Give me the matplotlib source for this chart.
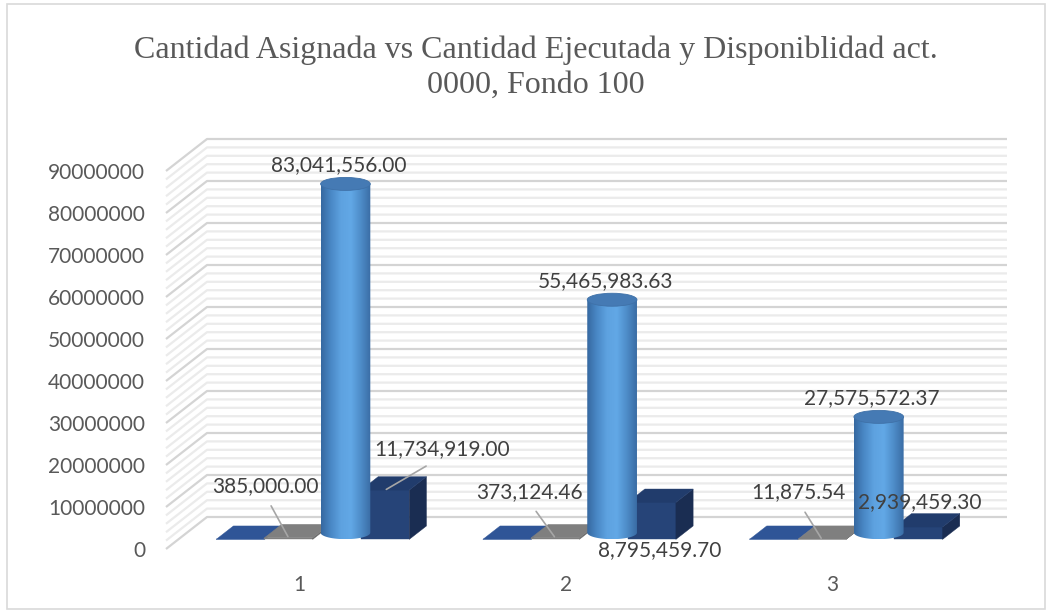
import numpy as np
import matplotlib
matplotlib.use('Agg')
import matplotlib.pyplot as plt
from matplotlib.patches import Polygon, PathPatch, Rectangle, Ellipse
from matplotlib.path import Path
from matplotlib.colors import LinearSegmentedColormap

# ---------------- data ----------------
categories = ['1', '2', '3']
serie_1 = [0.0, 0.0, 0.0]
serie_2 = [385000.00, 373124.46, 11875.54]
serie_3 = [83041556.00, 55465983.63, 27575572.37]
serie_4 = [11734919.00, 8795459.70, 2939459.30]
y_ticks = [0, 10000000, 20000000, 30000000, 40000000,
           50000000, 60000000, 70000000, 80000000, 90000000]
title_lines = ['Cantidad Asignada vs Cantidad Ejecutada y Disponiblidad act.',
               '0000, Fondo 100']

# ---------------- style / layout ----------------
W, H = 1051, 612
TXT = '#595959'
LBL = '#404040'
DEPTH_DX, DEPTH_DY = 41, 32          # pixel shift of back wall
D0, D1 = 0.30, 0.72                  # bar depth (front, back) fractions
GROUP_START, BAR_W = 0.142, 0.181
CYL_RY_PX = 6.5

fig = plt.figure(figsize=(W / 100, H / 100), dpi=100)
fig.patch.set_facecolor('white')
ax = fig.add_axes([166 / W, 63 / H, 800 / W, 378 / H])
ax.set_xlim(0, 3)
ax.set_ylim(0, 90e6)
ax.set_facecolor('none')
for s in ax.spines.values():
    s.set_visible(False)

ax.set_yticks(y_ticks)
ax.set_yticklabels([str(v) for v in y_ticks])
ax.set_xticks(np.arange(len(categories)) + 0.5)
ax.set_xticklabels(categories)
ax.tick_params(axis='y', length=0, pad=15, labelsize=15, labelcolor=TXT)
ax.tick_params(axis='x', length=0, pad=19, labelsize=15, labelcolor=TXT)
for lab in ax.get_xticklabels() + ax.get_yticklabels():
    lab.set_fontfamily('Lato')

sx = 3 / 800.0
sy = 90e6 / 378.0


def P(x, v, d):
    return (x + d * DEPTH_DX * sx, v + d * DEPTH_DY * sy)


# gridlines (front-left diagonal + back wall)
for v in np.arange(0, 90e6 + 1, 2e6):
    major = (round(v) % 10_000_000) == 0
    pts = [P(0, v, 0), P(0, v, 1), P(3, v, 1)]
    ax.plot([p[0] for p in pts], [p[1] for p in pts],
            color='#D4D4D4' if major else '#EBEBEB', lw=1.6,
            clip_on=False, zorder=1, solid_capstyle='butt')


def draw_box(x0, x1, v, front, top, side, z):
    f = [P(x0, 0, D0), P(x1, 0, D0), P(x1, v, D0), P(x0, v, D0)]
    sd = [P(x1, 0, D0), P(x1, 0, D1), P(x1, v, D1), P(x1, v, D0)]
    tp = [P(x0, v, D0), P(x1, v, D0), P(x1, v, D1), P(x0, v, D1)]
    for poly, c in ((f, front), (sd, side), (tp, top)):
        ax.add_patch(Polygon(poly, closed=True, facecolor=c, edgecolor=c,
                             lw=0.3, zorder=z, clip_on=False))


cyl_cmap = LinearSegmentedColormap.from_list(
    'cyl', ['#3668A0', '#4A88C6', '#5EA2E0', '#62A8E6', '#4E8CC8', '#3A6CA4'])


def draw_cylinder(xc, v, z):
    rx = BAR_W / 2 * 1.03
    ry = CYL_RY_PX * sy
    bx, yb = P(xc, 0, (D0 + D1) / 2)
    _, yt = P(xc, v, (D0 + D1) / 2)
    t = np.linspace(np.pi, 2 * np.pi, 40)
    verts = [(bx - rx, yt), (bx - rx, yb)]
    verts += list(zip(bx + rx * np.cos(t), yb + ry * np.sin(t)))
    verts += [(bx + rx, yb), (bx + rx, yt), (bx - rx, yt)]
    path = Path(verts)
    patch = PathPatch(path, facecolor='none', edgecolor='none', zorder=z)
    ax.add_patch(patch)
    grad = np.linspace(0, 1, 256).reshape(1, -1)
    im = ax.imshow(grad, cmap=cyl_cmap, extent=[bx - rx, bx + rx, yb - ry, yt],
                   aspect='auto', zorder=z, interpolation='bilinear')
    im.set_clip_path(patch)
    ax.add_patch(Ellipse((bx, yt), 2 * rx, 2 * ry, facecolor='#457AB4',
                         edgecolor='#3F71A8', lw=0.6, zorder=z + 0.1))
    return bx, yt


# label offsets (pixels)
s2_off = [(-23, 52), (-26, 46), (-23, 47)]
s4_off = [(57, 41), (8, -48), (1, 25)]
s4_leader = [True, False, False]

for i in range(len(categories)):
    base = i + GROUP_START
    xs = [base + k * BAR_W for k in range(4)]
    z = 3 + i
    draw_box(xs[0], xs[0] + BAR_W, serie_1[i], '#2F5597', '#2F5597', '#24467D', z)
    draw_box(xs[1], xs[1] + BAR_W, serie_2[i], '#7F7F7F', '#7F7F7F', '#666666', z)
    draw_box(xs[3], xs[3] + BAR_W, serie_4[i], '#264478', '#213C6C', '#1A2D52', z)
    cx, cy = draw_cylinder(xs[2] + BAR_W / 2, serie_3[i], z + 0.5)

    ax.annotate(f'{serie_3[i]:,.2f}', xy=(cx, cy), xytext=(-7, 19),
                textcoords='offset pixels', ha='center', va='center',
                fontsize=15, color=LBL, family='Lato', zorder=20,
                annotation_clip=False)
    a2 = P(xs[1] + BAR_W / 2, serie_2[i], D0)
    ax.annotate(f'{serie_2[i]:,.2f}', xy=a2, xytext=s2_off[i],
                textcoords='offset pixels', ha='center', va='center',
                fontsize=15, color=LBL, family='Lato', zorder=20,
                annotation_clip=False,
                arrowprops=dict(arrowstyle='-', color='#A6A6A6', lw=1.2,
                                relpos=(0.5, 0), shrinkA=6, shrinkB=1))
    a4 = P(xs[3] + BAR_W / 2, serie_4[i], D0)
    kw = {}
    if s4_leader[i]:
        kw['arrowprops'] = dict(arrowstyle='-', color='#A6A6A6', lw=1.2,
                                relpos=(0.47, 0), shrinkA=6, shrinkB=1)
    ax.annotate(f'{serie_4[i]:,.2f}', xy=a4, xytext=s4_off[i],
                textcoords='offset pixels', ha='center', va='center',
                fontsize=15, color=LBL, family='Lato', zorder=20,
                annotation_clip=False, **kw)

ax.set_xlim(0, 3)
ax.set_ylim(0, 90e6)

fig.text(536 / W, 1 - 50 / H, title_lines[0], ha='center', va='center',
         fontsize=23, color=TXT, family='Liberation Serif')
fig.text(536 / W, 1 - 85 / H, title_lines[1], ha='center', va='center',
         fontsize=23, color=TXT, family='Liberation Serif')

fig.patches.append(Rectangle((6.5 / W, 3.5 / H), 1038 / W, 605 / H,
                             transform=fig.transFigure, fill=False,
                             edgecolor='#D9D9D9', lw=1.2))

fig.savefig('out.png', dpi=100)
